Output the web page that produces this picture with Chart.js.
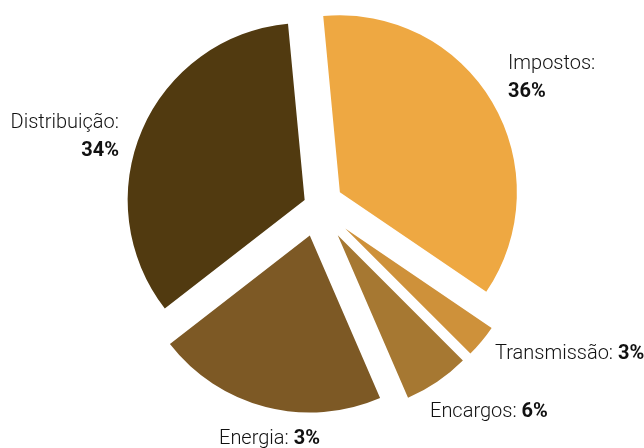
<!DOCTYPE html>
<html>
<head>
<meta charset="utf-8">
<script src="https://cdn.jsdelivr.net/npm/chart.js@4"></script>
<style>
  html, body { margin: 0; padding: 0; background: #fff; }
  #wrap { width: 644px; height: 448px; }
</style>
</head>
<body>
<div id="wrap"><canvas id="chart"></canvas></div>
<script>
// tarifa breakdown
var categories = ['Impostos', 'Transmissão', 'Encargos', 'Energia', 'Distribuição'];
var shares = [36, 3, 6, 21, 34];
var shareLabels = ['36%', '3%', '6%', '3%', '34%'];
var colors = ['#EEA842', '#CE913A', '#A67832', '#7D5925', '#513A10'];

// how far each slice is pulled out from the centre (px)
var explode = [26, 36, 36, 31, 14];

// label placement: x, baseline y, alignment, two lines or one
var labelSpots = [
	{ x: 508, y: 69, align: 'left', split: true },
	{ x: 495, y: 359, align: 'left', split: false },
	{ x: 430, y: 417, align: 'left', split: false },
	{ x: 219, y: 444, align: 'left', split: false },
	{ x: 119, y: 128, align: 'right', split: true }
];

var nameFont = '300 20px Roboto, "Liberation Sans", sans-serif';
var pctFont = 'bold 20px Roboto, "Liberation Sans", sans-serif';

var explodePlugin = {
	id: 'explode',
	beforeDatasetDraw: function (chart, args) {
		var ctx = chart.ctx;
		args.meta.data.forEach(function (arc, i) {
			var mid = (arc.startAngle + arc.endAngle) / 2;
			ctx.save();
			ctx.translate(Math.cos(mid) * explode[i], Math.sin(mid) * explode[i]);
			arc.draw(ctx);
			ctx.restore();
		});
		return false;
	}
};

var labelPlugin = {
	id: 'sliceLabels',
	afterDraw: function (chart) {
		var ctx = chart.ctx;
		ctx.save();
		ctx.fillStyle = '#111';
		ctx.textBaseline = 'alphabetic';
		labelSpots.forEach(function (s, i) {
			var name = categories[i] + ':';
			var pct = shareLabels[i];
			if (s.split) {
				ctx.textAlign = s.align;
				ctx.font = nameFont;
				ctx.fillText(name, s.x, s.y);
				ctx.font = pctFont;
				ctx.fillText(pct, s.x, s.y + 28);
			} else {
				ctx.textAlign = 'left';
				ctx.font = nameFont;
				var w = ctx.measureText(name + ' ').width;
				ctx.fillText(name + ' ', s.x, s.y);
				ctx.font = pctFont;
				ctx.fillText(pct, s.x + w, s.y);
			}
		});
		ctx.restore();
	}
};

new Chart(document.getElementById('chart'), {
	type: 'pie',
	data: {
		labels: categories,
		datasets: [{
			data: shares,
			backgroundColor: colors,
			borderWidth: 0
		}]
	},
	options: {
		responsive: true,
		maintainAspectRatio: false,
		animation: false,
		rotation: -5.4,
		radius: 177,
		layout: {
			padding: { left: 0, right: 9, top: 0, bottom: 37 }
		},
		plugins: {
			legend: { display: false },
			tooltip: { enabled: false }
		}
	},
	plugins: [explodePlugin, labelPlugin]
});
</script>
</body>
</html>
